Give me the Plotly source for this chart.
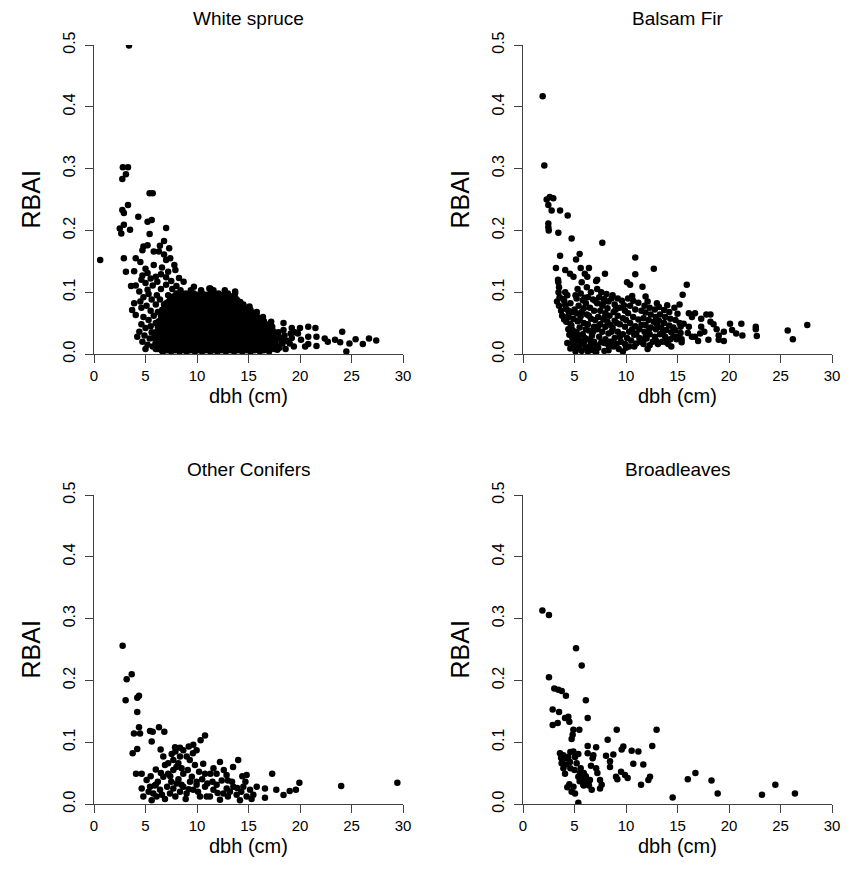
import plotly.graph_objects as go

# ---- data: (dbh cm, RBAI) ----
white_spruce_sparse = [
    (3.4, 0.499), (2.8, 0.302), (3.3, 0.302), (3.1, 0.291), (2.75, 0.283), (5.4, 0.26), (5.7, 0.26),
    (3.3, 0.241), (2.75, 0.233), (2.9, 0.228), (4.3, 0.222), (5.2, 0.214), (5.6, 0.217), (2.5, 0.203),
    (2.9, 0.209), (3.5, 0.201), (2.65, 0.195), (7.0, 0.204), (5.4, 0.194), (6.8, 0.183), (6.4, 0.175),
    (7.3, 0.171), (4.8, 0.174), (5.2, 0.176), (0.6, 0.152), (2.9, 0.155), (4.7, 0.168), (5.8, 0.166),
    (4.05, 0.155), (4.5, 0.149), (6.3, 0.166), (6.8, 0.161), (7.4, 0.155), (7.0, 0.152), (5.8, 0.144),
    (3.1, 0.133), (3.9, 0.134), (5.0, 0.138), (5.2, 0.131), (7.8, 0.144), (7.9, 0.136), (4.7, 0.127),
    (6.5, 0.129), (7.0, 0.124), (3.6, 0.11), (4.05, 0.111), (4.4, 0.101), (5.2, 0.104), (5.7, 0.111),
    (6.15, 0.117), (8.25, 0.123), (8.7, 0.117), (9.7, 0.109), (11.2, 0.106), (3.9, 0.082), (4.5, 0.085),
    (3.7, 0.071), (4.05, 0.063), (4.4, 0.036), (4.2, 0.028), (5.0, 0.008), (6.6, 0.005),
    (4.6, 0.12), (5.0, 0.115), (5.5, 0.122), (6.0, 0.125), (6.6, 0.14), (7.2, 0.133), (5.3, 0.097),
    (4.8, 0.092), (5.6, 0.088), (6.1, 0.095), (6.5, 0.105), (7.0, 0.112), (7.5, 0.118), (4.6, 0.075),
    (5.1, 0.078), (5.5, 0.07), (6.0, 0.08), (6.4, 0.088), (4.8, 0.06), (5.3, 0.055), (5.8, 0.062),
    (6.2, 0.068), (4.6, 0.048), (5.0, 0.042), (5.5, 0.045), (6.0, 0.05), (4.9, 0.03), (5.4, 0.025),
    (5.9, 0.032), (6.3, 0.038), (5.2, 0.015), (5.7, 0.012), (6.2, 0.018), (6.0, 0.008), (4.7, 0.02),
    (5.6, 0.035), (6.8, 0.075), (7.2, 0.095), (7.6, 0.105), (8.0, 0.11),
    (11.3, 0.106), (12.7, 0.098), (13.7, 0.101), (13.5, 0.093), (13.9, 0.087), (15.1, 0.077),
    (15.8, 0.068), (16.4, 0.06), (17.2, 0.052), (18.4, 0.05), (19.2, 0.042), (20.0, 0.042),
    (20.8, 0.044), (21.5, 0.042), (24.1, 0.036), (25.4, 0.024), (26.7, 0.025), (27.4, 0.022),
    (26.1, 0.016), (24.8, 0.017), (24.5, 0.004), (23.4, 0.023), (23.9, 0.019), (22.7, 0.02),
    (22.4, 0.025), (21.6, 0.028), (21.6, 0.013), (20.8, 0.028), (20.8, 0.016), (20.1, 0.023),
    (19.8, 0.033), (19.1, 0.033), (18.5, 0.023), (17.8, 0.007), (17.6, 0.028),
]

# dense core of the white spruce cloud, one row per RBAI level: (rbai, [dbh, ...])
white_spruce_core = [
    (0.004, [6.7, 7.5, 8.3, 9.0, 9.8, 10.5, 11.3, 12.0, 12.8, 13.6, 14.4, 15.2, 16.1, 17.0]),
    (0.006, [7.1, 7.9, 8.7, 9.4, 10.2, 10.9, 11.7, 12.4, 13.2, 14.0, 14.8, 15.6, 16.5]),
    (0.008, [6.2, 7.1, 7.9, 8.7, 9.4, 10.2, 10.9, 11.7, 12.4, 13.2, 14.0, 14.8, 15.6, 16.5, 17.5, 18.6]),
    (0.010, [6.6, 7.5, 8.3, 9.1, 9.8, 10.6, 11.3, 12.1, 12.8, 13.6, 14.4, 15.2, 16.0, 17.0, 18.0]),
    (0.012, [6.6, 7.4, 8.2, 9.0, 9.8, 10.6, 11.3, 12.1, 12.9, 13.6, 14.4, 15.2, 16.0, 16.9, 17.9, 19.4, 20.5]),
    (0.015, [6.3, 7.0, 7.8, 8.6, 9.4, 10.2, 10.9, 11.7, 12.5, 13.2, 14.0, 14.8, 15.6, 16.5, 17.6]),
    (0.017, [6.0, 6.9, 7.7, 8.5, 9.3, 10.0, 10.8, 11.5, 12.3, 13.1, 13.9, 14.6, 15.4, 16.3, 17.2, 18.3, 19.0]),
    (0.019, [6.0, 6.8, 7.6, 8.4, 9.2, 10.0, 10.8, 11.5, 12.3, 13.1, 13.8, 14.6, 15.4, 16.3, 17.2, 18.2]),
    (0.021, [6.4, 7.2, 8.0, 8.8, 9.6, 10.4, 11.1, 11.9, 12.7, 13.4, 14.2, 15.0, 15.8, 16.7, 17.6, 18.8]),
    (0.024, [6.2, 7.1, 7.9, 8.7, 9.5, 10.3, 11.0, 11.8, 12.6, 13.3, 14.1, 14.9, 15.7, 16.6, 17.5]),
    (0.026, [5.8, 6.7, 7.5, 8.3, 9.1, 9.9, 10.6, 11.4, 12.2, 13.0, 13.7, 14.5, 15.3, 16.1, 17.0, 18.0, 19.2]),
    (0.028, [6.0, 6.7, 7.4, 8.2, 9.0, 9.8, 10.5, 11.3, 12.1, 12.8, 13.6, 14.4, 15.2, 16.0, 16.9, 17.9]),
    (0.030, [6.3, 7.0, 7.8, 8.6, 9.4, 10.2, 10.9, 11.7, 12.5, 13.2, 14.0, 14.8, 15.6, 16.5, 17.4, 18.5]),
    (0.033, [6.5, 7.3, 8.1, 8.9, 9.7, 10.5, 11.2, 12.0, 12.8, 13.6, 14.3, 15.1, 15.9, 16.7]),
    (0.035, [6.0, 6.8, 7.6, 8.4, 9.2, 9.9, 10.7, 11.5, 12.2, 13.0, 13.8, 14.5, 15.3, 16.1, 17.0, 17.9, 19.5]),
    (0.037, [6.2, 7.0, 7.8, 8.6, 9.4, 10.1, 10.9, 11.7, 12.4, 13.2, 14.0, 14.7, 15.5, 16.4, 17.4]),
    (0.039, [6.5, 7.3, 8.1, 8.9, 9.7, 10.4, 11.2, 12.0, 12.8, 13.5, 14.3, 15.1, 15.9, 16.8, 18.4]),
    (0.042, [6.6, 7.4, 8.2, 9.0, 9.8, 10.6, 11.4, 12.1, 12.9, 13.7, 14.4, 15.2, 16.0, 16.9]),
    (0.044, [6.2, 7.0, 7.8, 8.6, 9.4, 10.2, 10.9, 11.7, 12.5, 13.3, 14.0, 14.8, 15.6, 16.4, 17.3]),
    (0.046, [6.3, 7.0, 7.8, 8.6, 9.4, 10.2, 11.0, 11.8, 12.5, 13.3, 14.1, 14.9, 15.7, 16.6]),
    (0.048, [6.6, 7.4, 8.2, 9.0, 9.8, 10.6, 11.4, 12.1, 12.9, 13.7, 14.5, 15.3, 16.0, 17.0]),
    (0.051, [6.7, 7.5, 8.3, 9.1, 9.9, 10.7, 11.4, 12.2, 13.0, 13.8, 14.6, 15.3, 16.1]),
    (0.053, [6.3, 7.1, 7.9, 8.7, 9.5, 10.3, 11.0, 11.8, 12.6, 13.4, 14.2, 14.9, 15.7, 16.5]),
    (0.055, [6.5, 7.3, 8.1, 8.9, 9.7, 10.5, 11.3, 12.0, 12.8, 13.6, 14.4, 15.2, 16.0]),
    (0.057, [6.7, 7.5, 8.3, 9.1, 9.9, 10.7, 11.5, 12.3, 13.0, 13.8, 14.6, 15.4, 16.2]),
    (0.060, [6.9, 7.7, 8.5, 9.3, 10.1, 10.9, 11.6, 12.4, 13.2, 13.9, 14.7, 15.5]),
    (0.062, [6.5, 7.3, 8.0, 8.8, 9.6, 10.4, 11.2, 11.9, 12.7, 13.5, 14.3, 15.1, 15.8]),
    (0.064, [6.7, 7.5, 8.3, 9.1, 9.9, 10.7, 11.5, 12.2, 13.0, 13.8, 14.6, 15.3]),
    (0.066, [6.9, 7.7, 8.5, 9.3, 10.1, 10.9, 11.6, 12.4, 13.2, 14.0, 14.8, 15.5]),
    (0.069, [7.0, 7.8, 8.6, 9.4, 10.2, 11.0, 11.8, 12.6, 13.3, 14.1, 14.9]),
    (0.071, [6.6, 7.4, 8.2, 9.0, 9.8, 10.6, 11.4, 12.2, 12.9, 13.7, 14.5, 15.2]),
    (0.073, [6.8, 7.6, 8.4, 9.2, 10.0, 10.8, 11.6, 12.4, 13.1, 13.9, 14.6]),
    (0.075, [7.0, 7.8, 8.6, 9.4, 10.2, 11.0, 11.8, 12.6, 13.4, 14.1, 14.9]),
    (0.078, [7.2, 8.0, 8.8, 9.6, 10.4, 11.2, 12.0, 12.8, 13.6, 14.3]),
    (0.080, [6.8, 7.6, 8.4, 9.2, 10.0, 10.7, 11.5, 12.3, 13.1, 13.9, 14.5]),
    (0.082, [7.0, 7.8, 8.6, 9.4, 10.2, 11.0, 11.8, 12.6, 13.4, 14.0]),
    (0.084, [7.2, 8.0, 8.8, 9.6, 10.4, 11.2, 12.0, 12.8, 13.6, 14.2]),
    (0.087, [7.6, 8.4, 9.2, 10.0, 10.8, 11.6, 12.4, 13.2, 13.6]),
    (0.089, [7.4, 8.2, 9.0, 9.8, 10.6, 11.4, 12.2, 13.0, 13.8]),
    (0.091, [8.0, 8.8, 9.6, 10.4, 11.2, 12.0, 12.8]),
    (0.093, [7.7, 8.5, 9.3, 10.1, 10.9, 11.7, 12.5, 13.3]),
    (0.096, [8.4, 9.3, 10.1, 10.9, 11.7, 12.6]),
    (0.098, [8.0, 8.9, 9.7, 10.5, 11.3, 12.1, 13.0, 13.7]),
    (0.103, [8.4, 9.4, 10.4, 11.6, 12.7]),
]

balsam_fir = [
    (1.91, 0.417), (2.07, 0.305), (2.6, 0.254), (2.94, 0.252), (2.3, 0.25), (2.46, 0.241), (2.78, 0.232),
    (3.6, 0.232), (4.34, 0.224), (2.46, 0.211), (2.46, 0.205), (2.5, 0.2), (3.43, 0.196), (4.72, 0.187),
    (7.7, 0.18), (3.6, 0.159), (5.5, 0.162), (5.15, 0.153), (3.2, 0.139), (5.6, 0.139), (6.4, 0.139),
    (4.1, 0.136), (4.56, 0.13), (4.9, 0.125), (6.0, 0.13), (7.96, 0.13), (3.4, 0.12), (7.2, 0.12),
    (10.9, 0.156), (10.9, 0.129), (12.7, 0.138), (7.1, 0.118), (6.24, 0.125), (5.7, 0.116),
    (3.43, 0.116), (3.5, 0.108), (3.45, 0.1), (3.55, 0.092), (15.9, 0.112), (15.5, 0.096), (15.2, 0.08),
    (10.1, 0.116), (10.4, 0.112), (11.6, 0.109), (11.9, 0.093), (3.9, 0.089), (4.1, 0.079),
    (4.4, 0.07), (4.4, 0.06), (4.6, 0.049), (4.8, 0.039), (5.0, 0.028), (5.2, 0.023), (5.53, 0.02),
    (6.5, 0.023), (8.4, 0.02), (11.7, 0.023), (15.4, 0.024), (17.0, 0.021), (22.7, 0.029),
    (20.1, 0.049), (21.2, 0.049), (22.6, 0.044), (22.6, 0.04), (25.7, 0.038), (26.2, 0.024), (27.6, 0.047),
    (19.5, 0.036), (20.3, 0.039), (20.7, 0.033), (21.3, 0.03), (18.2, 0.064), (17.8, 0.064),
    (17.3, 0.057), (17.3, 0.044), (17.2, 0.033), (18.0, 0.023), (19.0, 0.023), (19.5, 0.021),
    (18.2, 0.052), (18.5, 0.048), (16.1, 0.066), (16.7, 0.066), (16.4, 0.06), (16.1, 0.044),
    (16.4, 0.028), (15.6, 0.049), (15.3, 0.044), (15.0, 0.028), (15.4, 0.019),
    (3.3, 0.085), (3.5, 0.078), (3.7, 0.07), (3.8, 0.062), (4.0, 0.056),
    (4.1, 0.1), (4.3, 0.095), (4.0, 0.086), (4.6, 0.082), (4.2, 0.073), (4.8, 0.068), (4.4, 0.062),
    (4.9, 0.057), (4.2, 0.052), (4.7, 0.046), (4.4, 0.04), (5.0, 0.036), (4.5, 0.031), (4.8, 0.025),
    (4.3, 0.018), (5.0, 0.014), (4.6, 0.009), (5.1, 0.004),
    (5.3, 0.105), (5.6, 0.098), (5.2, 0.09), (5.8, 0.087), (5.4, 0.078), (5.9, 0.074), (5.2, 0.066),
    (5.6, 0.061), (5.3, 0.053), (5.9, 0.05), (5.5, 0.043), (5.2, 0.035), (5.8, 0.032), (5.4, 0.025),
    (5.9, 0.018), (5.5, 0.012), (5.7, 0.005),
    (6.2, 0.108), (6.6, 0.1), (6.3, 0.092), (6.8, 0.088), (6.1, 0.082), (6.5, 0.075), (6.9, 0.07),
    (6.2, 0.064), (6.6, 0.057), (6.3, 0.048), (6.9, 0.044), (6.4, 0.038), (6.7, 0.03), (6.2, 0.024),
    (6.9, 0.02), (6.5, 0.013), (6.8, 0.006),
    (7.2, 0.105), (7.6, 0.1), (8.1, 0.097), (7.4, 0.092), (7.9, 0.089), (8.3, 0.085), (7.2, 0.082),
    (7.7, 0.078), (8.2, 0.074), (7.5, 0.07), (8.0, 0.066), (8.4, 0.062), (7.3, 0.06), (7.8, 0.056),
    (8.2, 0.052), (7.5, 0.048), (8.0, 0.044), (7.2, 0.04), (7.7, 0.036), (8.3, 0.033), (7.4, 0.028),
    (8.0, 0.024), (7.6, 0.019), (8.3, 0.014), (7.3, 0.01), (7.9, 0.005),
    (8.7, 0.095), (9.2, 0.09), (9.6, 0.086), (8.9, 0.08), (9.4, 0.075), (9.9, 0.07), (8.8, 0.068),
    (9.2, 0.062), (9.7, 0.058), (8.9, 0.054), (9.4, 0.048), (9.9, 0.044), (8.7, 0.042), (9.2, 0.036),
    (9.7, 0.032), (8.9, 0.026), (9.5, 0.02), (9.9, 0.016), (8.8, 0.012), (9.3, 0.008),
    (10.2, 0.09), (10.7, 0.086), (11.2, 0.083), (10.4, 0.078), (10.9, 0.072), (10.2, 0.066),
    (10.7, 0.06), (11.2, 0.056), (10.4, 0.05), (10.9, 0.045), (11.3, 0.04), (10.3, 0.036),
    (10.8, 0.031), (11.3, 0.026), (10.5, 0.022), (11.0, 0.017), (10.3, 0.012),
    (11.8, 0.078), (12.3, 0.075), (12.8, 0.072), (11.9, 0.067), (12.4, 0.064), (12.9, 0.06),
    (11.7, 0.058), (12.2, 0.055), (12.7, 0.052), (11.9, 0.047), (12.4, 0.043), (12.9, 0.04),
    (11.8, 0.036), (12.3, 0.032), (12.8, 0.028), (12.0, 0.025), (12.6, 0.02), (11.7, 0.016),
    (13.2, 0.076), (13.7, 0.071), (14.2, 0.068), (13.3, 0.064), (13.8, 0.06), (14.3, 0.057),
    (13.2, 0.054), (13.7, 0.05), (14.2, 0.046), (13.4, 0.043), (13.9, 0.039), (14.4, 0.035),
    (13.3, 0.032), (13.8, 0.028), (14.3, 0.024), (13.5, 0.02), (14.1, 0.016),
    (14.7, 0.075), (15.0, 0.065), (14.8, 0.055), (15.2, 0.05), (14.8, 0.038), (15.3, 0.034), (14.9, 0.024),
    (5.1, 0.095), (6.0, 0.091), (7.0, 0.086), (7.8, 0.083), (8.6, 0.09), (9.0, 0.072), (9.8, 0.079),
    (10.6, 0.094), (11.5, 0.07), (12.1, 0.085), (13.0, 0.082), (14.0, 0.079), (5.0, 0.072), (5.7, 0.068),
    (6.4, 0.062), (7.0, 0.055), (7.9, 0.059), (8.5, 0.047), (9.1, 0.05), (10.0, 0.055), (10.6, 0.04),
    (11.5, 0.047), (12.2, 0.038), (13.0, 0.048), (13.6, 0.036), (14.6, 0.043), (5.5, 0.055), (6.1, 0.04),
    (6.8, 0.036), (7.3, 0.045), (8.6, 0.036), (9.4, 0.028), (10.1, 0.026), (11.0, 0.033), (11.9, 0.028),
    (12.9, 0.022), (13.9, 0.019), (14.6, 0.028), (5.3, 0.03), (6.0, 0.026), (6.6, 0.018), (7.1, 0.014),
    (7.9, 0.018), (8.6, 0.02), (9.1, 0.016), (10.0, 0.01), (10.8, 0.012), (11.4, 0.02), (12.3, 0.014),
    (13.1, 0.016), (14.4, 0.012), (4.8, 0.018), (5.2, 0.009), (6.1, 0.01), (6.3, 0.004), (7.1, 0.003),
    (8.3, 0.006), (9.7, 0.004), (12.1, 0.008), (16.7, 0.028), (17.6, 0.036), (16.0, 0.034), (19.0, 0.03),
    (18.8, 0.04),
]

other_conifers = [
    (2.78, 0.256), (3.17, 0.202), (3.66, 0.21), (3.07, 0.168), (4.2, 0.172), (4.37, 0.175), (4.2, 0.149),
    (3.88, 0.114), (4.47, 0.114), (4.37, 0.124), (3.75, 0.082), (4.2, 0.089), (4.08, 0.049), (4.63, 0.049),
    (5.44, 0.118), (5.7, 0.117), (6.31, 0.124), (6.83, 0.117), (5.6, 0.101), (6.47, 0.088), (7.54, 0.081),
    (7.87, 0.092), (8.35, 0.091), (8.67, 0.087), (9.64, 0.096), (9.96, 0.087), (10.35, 0.103),
    (10.78, 0.111), (6.73, 0.077), (7.2, 0.066), (7.7, 0.071), (8.35, 0.077), (8.19, 0.066), (8.5, 0.058),
    (9.0, 0.077), (9.3, 0.071), (9.6, 0.082), (6.89, 0.063), (7.2, 0.049), (6.73, 0.044), (7.7, 0.055),
    (8.67, 0.049), (9.8, 0.063), (10.6, 0.065), (10.78, 0.049), (11.3, 0.049), (9.96, 0.036),
    (11.9, 0.049), (12.23, 0.068), (12.87, 0.047), (13.5, 0.06), (14.0, 0.071), (14.82, 0.047),
    (17.3, 0.049), (19.94, 0.0345), (24.0, 0.029), (29.45, 0.0345), (17.7, 0.023), (18.4, 0.0145),
    (19.0, 0.021), (19.6, 0.023), (16.6, 0.025), (16.6, 0.01),
    (4.63, 0.025), (4.79, 0.012), (5.11, 0.039), (5.44, 0.028), (5.6, 0.006), (5.76, 0.017),
    (6.08, 0.012), (6.41, 0.023), (6.89, 0.008), (7.38, 0.017), (7.7, 0.025), (8.03, 0.033),
    (8.35, 0.02), (8.67, 0.028), (8.99, 0.017), (9.32, 0.036), (9.64, 0.023), (9.96, 0.031),
    (10.29, 0.012), (10.78, 0.028), (10.94, 0.012), (11.26, 0.012), (11.59, 0.023), (11.91, 0.031),
    (12.23, 0.007), (12.56, 0.017), (12.88, 0.025), (13.2, 0.02), (13.53, 0.028), (13.85, 0.015),
    (14.17, 0.006), (14.5, 0.028), (14.82, 0.012), (15.15, 0.023), (15.47, 0.015), (15.8, 0.028),
    (5.3, 0.02), (5.9, 0.03), (6.2, 0.036), (6.6, 0.015), (7.1, 0.028), (7.5, 0.036), (7.9, 0.012),
    (8.2, 0.04), (8.5, 0.031), (8.9, 0.008), (9.2, 0.024), (9.5, 0.044), (10.1, 0.02), (10.5, 0.04),
    (11.0, 0.033), (11.5, 0.036), (12.0, 0.018), (12.4, 0.038), (13.0, 0.012), (13.4, 0.036),
    (13.9, 0.026), (14.3, 0.02), (14.7, 0.036), (15.3, 0.008), (6.0, 0.056), (6.5, 0.05),
    (7.4, 0.045), (8.0, 0.06), (9.1, 0.055), (10.2, 0.052), (11.6, 0.058), (12.6, 0.055),
    (13.0, 0.038), (14.4, 0.045), (5.5, 0.045), (7.9, 0.085), (9.2, 0.093), (6.0, 0.031),
]

broadleaves = [
    (1.88, 0.313), (2.52, 0.306), (5.15, 0.252), (5.7, 0.224), (2.52, 0.205), (3.04, 0.187), (3.43, 0.185),
    (3.76, 0.183), (4.17, 0.175), (6.1, 0.168), (2.88, 0.153), (3.5, 0.149), (6.28, 0.139), (4.08, 0.139),
    (4.4, 0.141), (4.5, 0.133), (2.88, 0.128), (3.37, 0.131), (4.89, 0.12), (5.47, 0.12), (4.82, 0.112),
    (4.72, 0.105), (9.1, 0.12), (12.97, 0.12), (8.22, 0.104), (12.55, 0.094), (6.28, 0.094), (7.1, 0.092),
    (6.28, 0.082), (6.83, 0.079), (6.76, 0.074), (6.6, 0.062), (7.1, 0.058), (8.06, 0.078), (8.77, 0.08),
    (8.45, 0.069), (8.45, 0.06), (9.74, 0.093), (9.58, 0.088), (10.55, 0.086), (11.2, 0.085),
    (10.71, 0.065), (11.68, 0.064), (12.33, 0.044), (12.17, 0.039), (11.46, 0.031), (9.03, 0.044),
    (9.16, 0.04), (9.52, 0.052), (9.9, 0.047), (10.16, 0.042),
    (3.59, 0.082), (3.92, 0.079), (4.08, 0.074), (3.75, 0.066), (3.92, 0.058), (4.08, 0.049),
    (4.4, 0.076), (4.56, 0.068), (4.89, 0.085), (5.05, 0.076), (5.37, 0.081), (5.21, 0.066),
    (5.53, 0.05), (5.37, 0.044), (5.7, 0.042), (6.02, 0.036), (5.86, 0.031), (6.34, 0.034),
    (6.5, 0.039), (6.67, 0.023), (7.22, 0.05), (7.48, 0.039), (7.64, 0.031), (7.48, 0.025),
    (4.3, 0.027), (4.72, 0.02), (5.05, 0.017), (5.37, 0.002), (3.7, 0.075), (4.2, 0.064),
    (4.6, 0.058), (5.6, 0.058), (5.0, 0.055), (5.9, 0.05), (6.1, 0.045), (5.5, 0.037),
    (4.5, 0.032), (4.9, 0.028), (5.9, 0.03), (6.4, 0.03), (4.6, 0.084), (3.8, 0.072),
    (14.53, 0.0105), (16.0, 0.04), (16.74, 0.05), (18.3, 0.038), (18.9, 0.017), (23.2, 0.015),
    (24.5, 0.031), (26.4, 0.017),
]

panel_titles = ["White spruce", "Balsam Fir", "Other Conifers", "Broadleaves"]
x_ticks = [0, 5, 10, 15, 20, 25, 30]
y_ticks = [0.0, 0.1, 0.2, 0.3, 0.4, 0.5]

# expand the dense rows into points
white_spruce = list(white_spruce_sparse)
for rbai, dbhs in white_spruce_core:
    white_spruce += [(d, rbai) for d in dbhs]

panels = [white_spruce, balsam_fir, other_conifers, broadleaves]

W, H = 856, 885
OFF = 8  # page body margin: the figure is drawn 8 px in from the top-left corner
# plot boxes in screen pixels: (left, right, top, bottom)
boxes = [(94, 403, 45, 354), (523, 832, 45, 354), (94, 403, 495, 804), (523, 832, 495, 804)]


def px(x):
    return (x - OFF) / W


def py(y):
    return 1 - (y - OFF) / H


FONT = "Liberation Sans, Arial, sans-serif"
AX = "#404040"

fig = go.Figure()
layout = {}
annotations = []
for i, (pts, title, box) in enumerate(zip(panels, panel_titles, boxes)):
    n = "" if i == 0 else str(i + 1)
    l, r, t, b = box
    fig.add_trace(go.Scatter(
        x=[p[0] for p in pts], y=[p[1] for p in pts],
        mode="markers", marker=dict(color="black", size=6.5, line=dict(width=0)),
        xaxis="x" + n, yaxis="y" + n, showlegend=False, hoverinfo="x+y",
    ))
    layout["xaxis" + n] = dict(
        domain=[px(l), px(r)], range=[0, 30], anchor="y" + n, automargin=False,
        tickvals=x_ticks, ticks="outside", ticklen=8, tickcolor=AX, tickwidth=1,
        showline=True, linecolor=AX, linewidth=1, showgrid=False, zeroline=False,
        ticklabelstandoff=0,
        tickfont=dict(size=15, color="black", family=FONT),
    )
    layout["yaxis" + n] = dict(
        domain=[py(b), py(t)], range=[0, 0.5], anchor="x" + n, automargin=False,
        tickvals=y_ticks, tickformat=".1f", ticks="outside", ticklen=8, tickcolor=AX, tickwidth=1,
        tickangle=-90, showline=True, linecolor=AX, linewidth=1, showgrid=False, zeroline=False,
        ticklabelstandoff=4,
        tickfont=dict(size=16, color="black", family=FONT),
    )
    annotations.append(dict(
        text=title, x=px((l + r) / 2), y=py(t - 26), xref="paper", yref="paper",
        xanchor="center", yanchor="middle", showarrow=False,
        font=dict(size=19, color="black", family=FONT),
    ))
    annotations.append(dict(
        text="dbh (cm)", x=px((l + r) / 2), y=py(b + 42), xref="paper", yref="paper",
        xanchor="center", yanchor="middle", showarrow=False,
        font=dict(size=20, color="black", family=FONT),
    ))
    annotations.append(dict(
        text="RBAI", x=px(l - 64), y=py((t + b) / 2), xref="paper", yref="paper",
        xanchor="center", yanchor="middle", showarrow=False, textangle=-90,
        font=dict(size=25, color="black", family=FONT),
    ))

fig.update_layout(
    width=W, height=H, margin=dict(l=0, r=0, t=0, b=0),
    paper_bgcolor="white", plot_bgcolor="white",
    annotations=annotations, **layout,
)
fig.write_html("out.html")
